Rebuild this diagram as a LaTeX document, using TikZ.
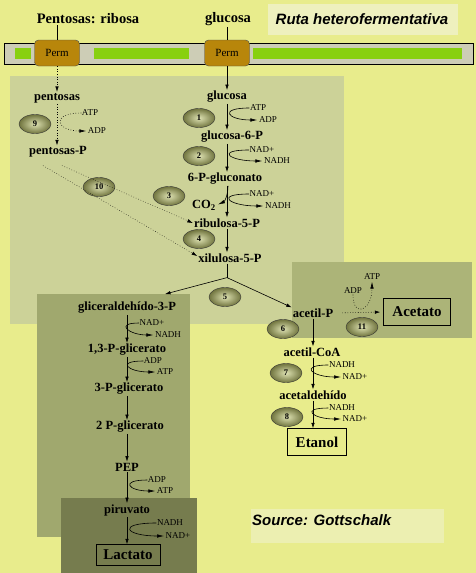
\documentclass[tikz,border=0pt]{standalone}
\usepackage{fontspec}
\setmainfont{Liberation Serif}
\newfontfamily\rotfont{Liberation Sans}
\usetikzlibrary{shapes.geometric,arrows.meta,positioning}
\definecolor{fondo}{RGB}{232,236,140}
\definecolor{panelA}{RGB}{204,210,152}
\definecolor{panelB}{RGB}{172,180,120}
\definecolor{panelC}{RGB}{160,168,110}
\definecolor{panelD}{RGB}{118,124,78}
\definecolor{membrana}{RGB}{205,205,182}
\definecolor{verde}{RGB}{136,208,16}
\definecolor{permcol}{RGB}{184,134,11}
\definecolor{claro}{RGB}{238,240,190}
\definecolor{enzclaro}{RGB}{222,226,178}
\definecolor{enzoscuro}{RGB}{112,116,62}
\tikzset{met/.style={font=\fontsize{12.5}{14}\selectfont\bfseries, inner sep=1pt},
  cof/.style={font=\fontsize{9}{10}\selectfont, inner sep=0.5pt},
  cabe/.style={font=\fontsize{14.5}{16}\selectfont\bfseries, inner sep=1pt},
  fin/.style={draw, thin, font=\fontsize{15}{17}\selectfont\bfseries, inner sep=1pt},
  enz/.style={ellipse, draw=black!80, inner color=enzclaro, outer color=enzoscuro, minimum width=32pt, minimum height=19pt, inner sep=0pt, font=\fontsize{8.5}{9}\selectfont\bfseries},
  perm/.style={draw=black!70, fill=permcol, rounded corners=4pt, minimum width=45pt, minimum height=26pt, font=\fontsize{11}{12}\selectfont},
  paso/.style={-{Latex[length=5.5pt,width=3.5pt]}, semithick},
  lado/.style={-{Latex[length=7pt,width=3.5pt]}, semithick, shorten >=1pt},
  rotulo/.style={font=\rotfont\fontsize{15}{17}\selectfont\bfseries\itshape, inner sep=1pt}}
\begin{document}
\begin{tikzpicture}[x=1pt,y=-1pt]
    \fill[fondo] (0,0) rectangle (476,573);
    \useasboundingbox (0,0) rectangle (476,573);
    % paneles
    \fill[panelA] (10,76) rectangle (344,324);
    \fill[panelC] (37,294) rectangle (190,537);
    \fill[panelB] (292,262) rectangle (472,338);
    \fill[panelD] (61,498) rectangle (197,573);
    \fill[claro] (268,4) rectangle (458,35);
    \fill[claro!75!fondo] (251,509) rectangle (444,543);
    % membrana
    \draw[fill=membrana] (4,43) rectangle (473,64);
    \fill[verde] (15,48) rectangle (31,59);
    \fill[verde] (94,48) rectangle (189,59);
    \fill[verde] (253,48) rectangle (462,59);
    \node[perm] (perm1) at (57,53) {Perm};
    \node[perm] (perm2) at (227,53) {Perm};
    \node[cabe] (rib0) at (88,19) {Pentosas: ribosa};
    \node[cabe] (glc0) at (228,19) {glucosa};
    \node[rotulo] (titulo) at (362,19) {Ruta heterofermentativa};
    \node[rotulo, anchor=west] (fuente) at (251,520) {Source: Gottschalk};
    \draw (rib0.south -| perm1) -- (perm1.north);
    \draw (glc0.south -| perm2) -- (perm2.north);
    % metabolitos
    \node[met] (pen) at (57,98) {pentosas};
    \node[met] (penP) at (58,152) {pentosas-P};
    \node[met] (glc) at (227,97) {glucosa};
    \node[met] (g6p) at (232,137) {glucosa-6-P};
    \node[met] (gcn) at (225,179) {6-P-gluconato};
    \node[met] (co2) at (204,205) {CO\textsubscript{2}};
    \node[met] (ru5p) at (227,223) {ribulosa-5-P};
    \node[met] (xu5p) at (230,258) {xilulosa-5-P};
    \node[met] (gap) at (127,308) {gliceraldehído-3-P};
    \node[met] (bpg) at (127,350) {1,3-P-glicerato};
    \node[met] (pg3) at (129,389) {3-P-glicerato};
    \node[met] (pg2) at (130,427) {2 P-glicerato};
    \node[met] (pep) at (127,467) {PEP};
    \node[met] (pyr) at (127,510) {piruvato};
    \node[fin, minimum width=64pt, minimum height=21pt] (lac) at (128,555) {Lactato};
    \node[met] (acp) at (313,313) {acetil-P};
    \node[met] (acoa) at (312,352) {acetil-CoA};
    \node[met] (ald) at (313,395) {acetaldehído};
    \node[fin, minimum width=59pt, minimum height=27pt] (eth) at (317,442) {Etanol};
    \node[fin, minimum width=67pt, minimum height=27pt] (ace) at (417,312) {Acetato};
    % enzimas
    \node[enz] (e1) at (199,118) {1};
    \node[enz] (e2) at (199,156) {2};
    \node[enz] (e3) at (169,196) {3};
    \node[enz] (e4) at (199,239) {4};
    \node[enz] (e5) at (225,297) {5};
    \node[enz] (e6) at (283,329) {6};
    \node[enz] (e7) at (286,373) {7};
    \node[enz] (e8) at (287,417) {8};
    \node[enz] (e9) at (35,124) {9};
    \node[enz] (e10) at (99,187) {10};
    \node[enz] (e11) at (362,327) {11};
    % via de la glucosa
    \draw[paso] (perm2.south) -- (glc.north);
    \draw[paso] (glc.south) -- (glc.south |- g6p.north);
    \draw[paso] (g6p.south -| glc) -- (glc |- gcn.north);
    \draw[paso] (gcn.south -| glc) -- (glc |- ru5p.north);
    \draw[lado] ([xshift=1pt]gcn.south -| glc) to[out=-90,in=25] (co2.east);
    \draw[paso] (ru5p.south -| glc) -- (glc |- xu5p.north);
    \draw[semithick] (xu5p.south -| glc) -- ++(0,14) coordinate (rama);
    \draw[paso] (rama) -- ([shift={(38pt,7pt)}]gap.north);
    \draw[paso] (rama) -- (acp.north west);
    % via de las pentosas
    \draw[paso,dotted] (perm1.south) -- (pen.north);
    \draw[paso,dotted] (pen.south) -- (pen.south |- penP.north);
    \draw[paso,dotted,thin] ([shift={(4pt,-7pt)}]penP.south) -- (ru5p.west);
    \draw[paso,dotted,thin] ([shift={(-15pt,-7pt)}]penP.south) -- ([yshift=2pt]xu5p.west);
    % glicolisis
    \draw[paso] (gap.south) -- (gap.south |- bpg.north);
    \draw[paso] (bpg.south) -- (bpg.south |- pg3.north);
    \draw[paso] (pg3.south -| bpg) -- (bpg |- pg2.north);
    \draw[paso] (pg2.south -| bpg) -- (bpg |- pep.north);
    \draw[paso] (pep.south) -- (pep.south |- pyr.north);
    \draw[paso] (pyr.south) -- (pyr.south |- lac.north);
    % acetil-P
    \draw[paso] (acp.south) -- (acp.south |- acoa.north);
    \draw[paso] (acoa.south -| acp) -- (acp |- ald.north);
    \draw[paso] (ald.south -| acp) -- (acp |- eth.north);
    \draw[paso,dotted,shorten <=8pt,shorten >=3pt] (acp.east) -- (ace.west);
    % cofactores
    \node[cof] (atp1) at (258,108) {ATP};
    \node[cof] (adp1) at (268,120) {ADP};
    \draw[lado] (atp1.west) .. controls +(-31,0) and +(-31,0) .. (adp1.west);
    \node[cof] (nad2) at (262,150) {NAD+};
    \node[cof] (nadh2) at (277,161) {NADH};
    \draw[lado] (nad2.west) .. controls +(-34,0) and +(-34,0) .. (nadh2.west);
    \node[cof] (nad3) at (262,194) {NAD+};
    \node[cof] (nadh3) at (278,206) {NADH};
    \draw[lado] (nad3.west) .. controls +(-35,0) and +(-35,0) .. (nadh3.west);
    \node[cof] (atp9) at (90,113) {ATP};
    \node[cof] (adp9) at (97,131) {ADP};
    \draw[lado,dotted] (atp9.west) .. controls +(-31,0) and +(-31,0) .. (adp9.west);
    \node[cof] (nadg) at (152,323) {NAD+};
    \node[cof] (nadhg) at (168,335) {NADH};
    \draw[lado] (nadg.west) .. controls +(-25,0) and +(-25,0) .. (nadhg.west);
    \node[cof] (adpg) at (153,361) {ADP};
    \node[cof] (atpg) at (165,372) {ATP};
    \draw[lado] (adpg.west) .. controls +(-28,0) and +(-28,0) .. (atpg.west);
    \node[cof] (adpp) at (157,480) {ADP};
    \node[cof] (atpp) at (165,491) {ATP};
    \draw[lado] (adpp.west) .. controls +(-28,0) and +(-28,0) .. (atpp.west);
    \node[cof] (nadhl) at (170,523) {NADH};
    \node[cof] (nadl) at (178,536) {NAD+};
    \draw[lado] (nadhl.west) .. controls +(-40,0) and +(-40,0) .. (nadl.west);
    \node[cof] (nadh7) at (342,365) {NADH};
    \node[cof] (nad7) at (355,377) {NAD+};
    \draw[lado] (nadh7.west) .. controls +(-30,0) and +(-30,0) .. (nad7.west);
    \node[cof] (nadh8) at (342,408) {NADH};
    \node[cof] (nad8) at (355,419) {NAD+};
    \draw[lado] (nadh8.west) .. controls +(-29,0) and +(-29,0) .. (nad8.west);
    \node[cof] (adp11) at (353,291) {ADP};
    \node[cof] (atp11) at (372,277) {ATP};
    \draw[lado,dotted] (adp11.south) .. controls +(0,24) and +(0,30) .. (atp11.south);
\end{tikzpicture}
\end{document}
